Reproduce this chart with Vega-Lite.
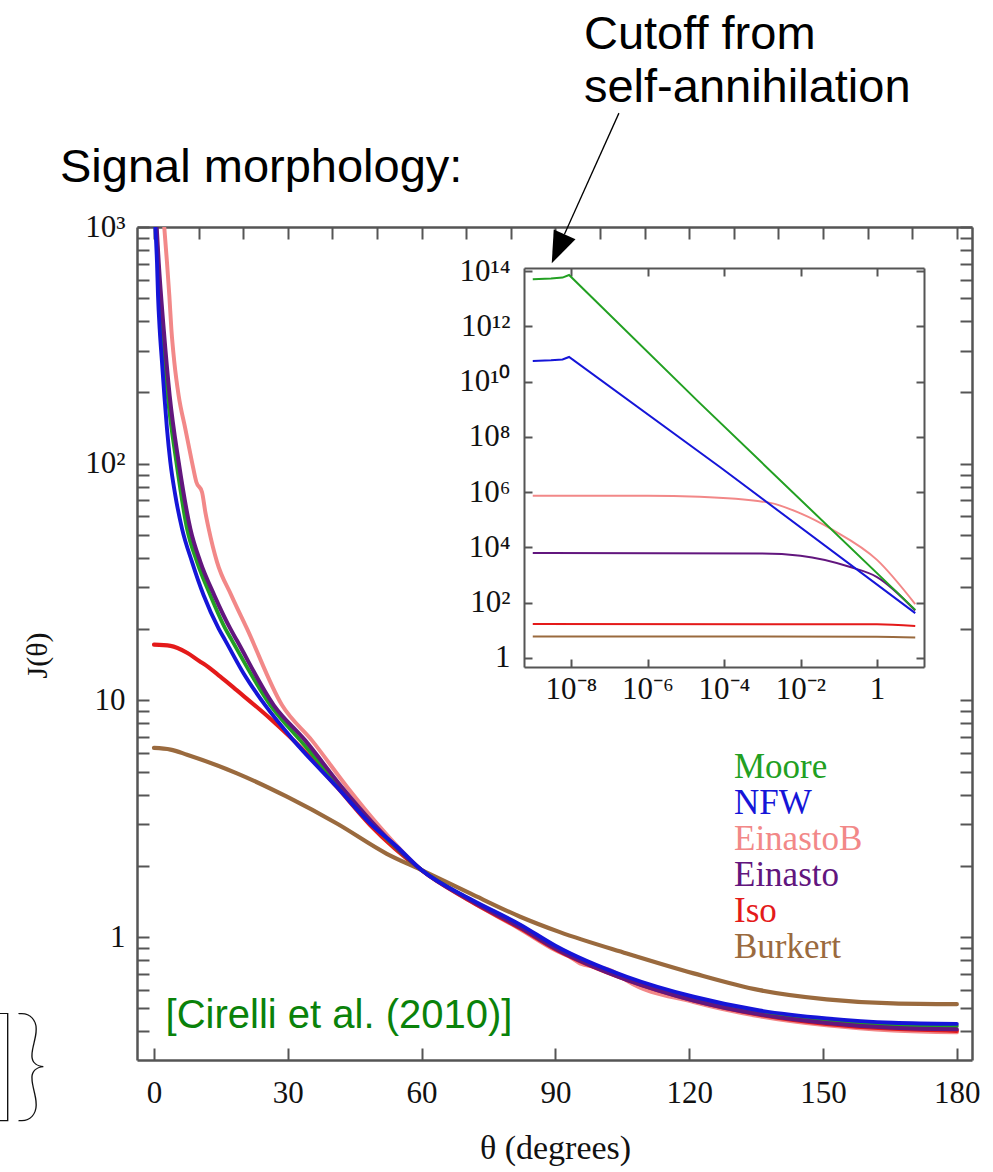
{
  "$schema": "https://vega.github.io/schema/vega-lite/v6.json",
  "width": 835,
  "height": 833,
  "autosize": {"type": "none"},
  "padding": {"left": 137, "top": 227, "right": 21, "bottom": 112},
  "background": "white",
  "config": {
    "view": {"stroke": null},
    "axis": {
      "grid": false,
      "domainColor": "#555555",
      "domainWidth": 2.5,
      "tickColor": "#555555",
      "tickWidth": 2,
      "labelFont": "Liberation Serif",
      "labelFontSize": 31,
      "labelColor": "#111111",
      "titleFont": "Liberation Serif",
      "titleFontWeight": "normal",
      "titleColor": "#111111",
      "labelFlush": false,
      "labelOverlap": false
    }
  },
  "datasets": {
    "main": [
      {"model": "EinastoB", "theta": 2.3, "J": 1000},
      {"model": "EinastoB", "theta": 2.91, "J": 710},
      {"model": "EinastoB", "theta": 3.44, "J": 513},
      {"model": "EinastoB", "theta": 3.89, "J": 371},
      {"model": "EinastoB", "theta": 4.56, "J": 268.5},
      {"model": "EinastoB", "theta": 5.53, "J": 194},
      {"model": "EinastoB", "theta": 7.02, "J": 140.5},
      {"model": "EinastoB", "theta": 8.52, "J": 101.6},
      {"model": "EinastoB", "theta": 9.49, "J": 83.7},
      {"model": "EinastoB", "theta": 10.76, "J": 76},
      {"model": "EinastoB", "theta": 11.51, "J": 62.5},
      {"model": "EinastoB", "theta": 12.26, "J": 53.2},
      {"model": "EinastoB", "theta": 14.12, "J": 38.5},
      {"model": "EinastoB", "theta": 17.34, "J": 27.8},
      {"model": "EinastoB", "theta": 20.85, "J": 20.1},
      {"model": "EinastoB", "theta": 28.69, "J": 9.56},
      {"model": "EinastoB", "theta": 35.4, "J": 6.78},
      {"model": "EinastoB", "theta": 43.3, "J": 4.31},
      {"model": "EinastoB", "theta": 50, "J": 3.02},
      {"model": "EinastoB", "theta": 60, "J": 1.92},
      {"model": "EinastoB", "theta": 70.9, "J": 1.42},
      {"model": "EinastoB", "theta": 82.1, "J": 1.08},
      {"model": "EinastoB", "theta": 90, "J": 0.88},
      {"model": "EinastoB", "theta": 93, "J": 0.83},
      {"model": "EinastoB", "theta": 95.5, "J": 0.775},
      {"model": "EinastoB", "theta": 98.5, "J": 0.75},
      {"model": "EinastoB", "theta": 101.5, "J": 0.735},
      {"model": "EinastoB", "theta": 104, "J": 0.7},
      {"model": "EinastoB", "theta": 106, "J": 0.655},
      {"model": "EinastoB", "theta": 121, "J": 0.532},
      {"model": "EinastoB", "theta": 135.8, "J": 0.463},
      {"model": "EinastoB", "theta": 150.8, "J": 0.424},
      {"model": "EinastoB", "theta": 165.7, "J": 0.403},
      {"model": "EinastoB", "theta": 180, "J": 0.396},

      {"model": "Iso", "theta": 0, "J": 17.2},
      {"model": "Iso", "theta": 3.7, "J": 17.0},
      {"model": "Iso", "theta": 7.4, "J": 15.9},
      {"model": "Iso", "theta": 10.3, "J": 14.6},
      {"model": "Iso", "theta": 11.13, "J": 14.28},
      {"model": "Iso", "theta": 14.87, "J": 12.6},
      {"model": "Iso", "theta": 18.6, "J": 11.02},
      {"model": "Iso", "theta": 26.08, "J": 8.37},
      {"model": "Iso", "theta": 33.55, "J": 6.15},
      {"model": "Iso", "theta": 41, "J": 4.31},
      {"model": "Iso", "theta": 48.5, "J": 2.97},
      {"model": "Iso", "theta": 60, "J": 1.918},
      {"model": "Iso", "theta": 70.9, "J": 1.42},
      {"model": "Iso", "theta": 82.1, "J": 1.09},
      {"model": "Iso", "theta": 90, "J": 0.89},
      {"model": "Iso", "theta": 106, "J": 0.66},
      {"model": "Iso", "theta": 121, "J": 0.54},
      {"model": "Iso", "theta": 135.8, "J": 0.47},
      {"model": "Iso", "theta": 150.8, "J": 0.43},
      {"model": "Iso", "theta": 165.7, "J": 0.41},
      {"model": "Iso", "theta": 180, "J": 0.402},

      {"model": "Burkert", "theta": 0, "J": 6.3},
      {"model": "Burkert", "theta": 3.7, "J": 6.2},
      {"model": "Burkert", "theta": 7.4, "J": 5.9},
      {"model": "Burkert", "theta": 18.6, "J": 4.92},
      {"model": "Burkert", "theta": 29.8, "J": 3.92},
      {"model": "Burkert", "theta": 41, "J": 3.02},
      {"model": "Burkert", "theta": 52.2, "J": 2.25},
      {"model": "Burkert", "theta": 60, "J": 1.92},
      {"model": "Burkert", "theta": 70.9, "J": 1.53},
      {"model": "Burkert", "theta": 82.1, "J": 1.22},
      {"model": "Burkert", "theta": 91, "J": 1.05},
      {"model": "Burkert", "theta": 106, "J": 0.853},
      {"model": "Burkert", "theta": 121, "J": 0.703},
      {"model": "Burkert", "theta": 135.8, "J": 0.597},
      {"model": "Burkert", "theta": 150.8, "J": 0.546},
      {"model": "Burkert", "theta": 165.7, "J": 0.525},
      {"model": "Burkert", "theta": 180, "J": 0.521},

      {"model": "Moore", "theta": 0.5, "J": 1000},
      {"model": "Moore", "theta": 0.9, "J": 710},
      {"model": "Moore", "theta": 1.79, "J": 371},
      {"model": "Moore", "theta": 3.06, "J": 194},
      {"model": "Moore", "theta": 5.01, "J": 101.6},
      {"model": "Moore", "theta": 7.4, "J": 53.2},
      {"model": "Moore", "theta": 9.64, "J": 38.5},
      {"model": "Moore", "theta": 12.63, "J": 27.8},
      {"model": "Moore", "theta": 15.99, "J": 20.1},
      {"model": "Moore", "theta": 17.5, "J": 17.9},
      {"model": "Moore", "theta": 26.08, "J": 9.56},
      {"model": "Moore", "theta": 32.8, "J": 6.78},
      {"model": "Moore", "theta": 41.76, "J": 4.31},
      {"model": "Moore", "theta": 48.9, "J": 3.02},
      {"model": "Moore", "theta": 60, "J": 1.92},
      {"model": "Moore", "theta": 70.9, "J": 1.44},
      {"model": "Moore", "theta": 82.1, "J": 1.12},
      {"model": "Moore", "theta": 90, "J": 0.91},
      {"model": "Moore", "theta": 106, "J": 0.672},
      {"model": "Moore", "theta": 121, "J": 0.552},
      {"model": "Moore", "theta": 135.8, "J": 0.482},
      {"model": "Moore", "theta": 150.8, "J": 0.445},
      {"model": "Moore", "theta": 165.7, "J": 0.426},
      {"model": "Moore", "theta": 180, "J": 0.421},

      {"model": "Einasto", "theta": 0.6, "J": 1000},
      {"model": "Einasto", "theta": 1.05, "J": 710},
      {"model": "Einasto", "theta": 2.17, "J": 371},
      {"model": "Einasto", "theta": 3.51, "J": 194},
      {"model": "Einasto", "theta": 5.53, "J": 101.6},
      {"model": "Einasto", "theta": 8.14, "J": 53.2},
      {"model": "Einasto", "theta": 10.39, "J": 38.5},
      {"model": "Einasto", "theta": 13.52, "J": 27.8},
      {"model": "Einasto", "theta": 17.11, "J": 20.1},
      {"model": "Einasto", "theta": 18.6, "J": 17.9},
      {"model": "Einasto", "theta": 26.83, "J": 9.56},
      {"model": "Einasto", "theta": 33.9, "J": 6.78},
      {"model": "Einasto", "theta": 42.1, "J": 4.31},
      {"model": "Einasto", "theta": 49.2, "J": 3.02},
      {"model": "Einasto", "theta": 60, "J": 1.92},
      {"model": "Einasto", "theta": 70.9, "J": 1.43},
      {"model": "Einasto", "theta": 82.1, "J": 1.1},
      {"model": "Einasto", "theta": 90, "J": 0.895},
      {"model": "Einasto", "theta": 106, "J": 0.66},
      {"model": "Einasto", "theta": 121, "J": 0.54},
      {"model": "Einasto", "theta": 135.8, "J": 0.472},
      {"model": "Einasto", "theta": 150.8, "J": 0.434},
      {"model": "Einasto", "theta": 165.7, "J": 0.414},
      {"model": "Einasto", "theta": 180, "J": 0.408},

      {"model": "NFW", "theta": 0.3, "J": 1000},
      {"model": "NFW", "theta": 0.67, "J": 710},
      {"model": "NFW", "theta": 0.9, "J": 513},
      {"model": "NFW", "theta": 1.27, "J": 371},
      {"model": "NFW", "theta": 1.79, "J": 268.5},
      {"model": "NFW", "theta": 2.32, "J": 194},
      {"model": "NFW", "theta": 2.91, "J": 140.5},
      {"model": "NFW", "theta": 3.66, "J": 101.6},
      {"model": "NFW", "theta": 4.78, "J": 73.5},
      {"model": "NFW", "theta": 6.28, "J": 53.2},
      {"model": "NFW", "theta": 8.52, "J": 38.5},
      {"model": "NFW", "theta": 11.13, "J": 27.8},
      {"model": "NFW", "theta": 14.5, "J": 20.1},
      {"model": "NFW", "theta": 16, "J": 17.9},
      {"model": "NFW", "theta": 20.1, "J": 13.0},
      {"model": "NFW", "theta": 25, "J": 9.5},
      {"model": "NFW", "theta": 31.3, "J": 6.78},
      {"model": "NFW", "theta": 41, "J": 4.31},
      {"model": "NFW", "theta": 48.5, "J": 3.02},
      {"model": "NFW", "theta": 54.5, "J": 2.41},
      {"model": "NFW", "theta": 60, "J": 1.92},
      {"model": "NFW", "theta": 70.9, "J": 1.45},
      {"model": "NFW", "theta": 82.1, "J": 1.13},
      {"model": "NFW", "theta": 90, "J": 0.92},
      {"model": "NFW", "theta": 106, "J": 0.68},
      {"model": "NFW", "theta": 121, "J": 0.56},
      {"model": "NFW", "theta": 135.8, "J": 0.49},
      {"model": "NFW", "theta": 150.8, "J": 0.454},
      {"model": "NFW", "theta": 165.7, "J": 0.435},
      {"model": "NFW", "theta": 180, "J": 0.43}
    ],
    "inset": [
      {"model": "EinastoB", "x": 1e-9, "J": 7.4e5},
      {"model": "EinastoB", "x": 1e-6, "J": 7.4e5},
      {"model": "EinastoB", "x": 2.3e-5, "J": 6.8e5},
      {"model": "EinastoB", "x": 1.6e-3, "J": 4.1e5},
      {"model": "EinastoB", "x": 1e-2, "J": 1.7e5},
      {"model": "EinastoB", "x": 7e-2, "J": 4.3e4},
      {"model": "EinastoB", "x": 1, "J": 3550},
      {"model": "EinastoB", "x": 10, "J": 89},
      {"model": "Iso", "x": 1e-9, "J": 17},
      {"model": "Iso", "x": 1, "J": 16.6},
      {"model": "Iso", "x": 10, "J": 14.3},
      {"model": "Burkert", "x": 1e-9, "J": 6.0},
      {"model": "Burkert", "x": 1, "J": 5.9},
      {"model": "Burkert", "x": 10, "J": 5.5},
      {"model": "Einasto", "x": 1e-9, "J": 6300},
      {"model": "Einasto", "x": 1e-3, "J": 6000},
      {"model": "Einasto", "x": 1e-2, "J": 5000},
      {"model": "Einasto", "x": 0.2, "J": 1950},
      {"model": "Einasto", "x": 1, "J": 850},
      {"model": "Einasto", "x": 10, "J": 52},
      {"model": "Moore", "x": 1e-9, "J": 5.1e13},
      {"model": "Moore", "x": 3e-9, "J": 5.4e13},
      {"model": "Moore", "x": 6e-9, "J": 5.8e13},
      {"model": "Moore", "x": 8.9e-9, "J": 7.2e13},
      {"model": "Moore", "x": 2.3e-5, "J": 1.7e9},
      {"model": "Moore", "x": 10, "J": 55},
      {"model": "NFW", "x": 1e-9, "J": 5.6e10},
      {"model": "NFW", "x": 3e-9, "J": 5.9e10},
      {"model": "NFW", "x": 6e-9, "J": 6.3e10},
      {"model": "NFW", "x": 8.9e-9, "J": 7.8e10},
      {"model": "NFW", "x": 8.3e-5, "J": 7.6e6},
      {"model": "NFW", "x": 10, "J": 42}
    ]
  },
  "layer": [
    {
      "resolve": {"axis": {"x": "independent", "y": "independent"}},
      "layer": [
        {
          "data": {"name": "main"},
          "mark": {"type": "line", "interpolate": "monotone", "strokeCap": "round", "strokeJoin": "round", "clip": true},
          "encoding": {
            "x": {
              "field": "theta", "type": "quantitative",
              "scale": {"domain": [-3.81, 183.4], "nice": false, "zero": false},
              "axis": {
                "orient": "bottom",
                "values": [0, 30, 60, 90, 120, 150, 180],
                "tickSize": -12,
                "labelPadding": 30,
                "title": "θ (degrees)",
                "titleFontSize": 34,
                "titleX": 418,
                "titleY": 88,
                "titleAngle": 0,
                "titleAlign": "center",
                "titleBaseline": "middle"
              }
            },
            "y": {
              "field": "J", "type": "quantitative",
              "scale": {"type": "log", "domain": [0.3027, 1000], "nice": false},
              "axis": {
                "orient": "left",
                "values": [0.4, 0.5, 0.6, 0.7, 0.8, 0.9, 1, 2, 3, 4, 5, 6, 7, 8, 9, 10, 20, 30, 40, 50, 60, 70, 80, 90, 100, 200, 300, 400, 500, 600, 700, 800, 900, 1000],
                "labelExpr": "datum.value == 1 ? '1' : datum.value == 10 ? '10' : datum.value == 100 ? '10²' : datum.value == 1000 ? '10³' : ''",
                "tickSize": -12,
                "labelPadding": 24,
                "title": "J(θ)",
                "titleFontSize": 30,
                "titleX": -100,
                "titleY": 428,
                "titleAngle": -90,
                "titleAlign": "center",
                "titleBaseline": "middle"
              }
            },
            "color": {
              "field": "model", "type": "nominal",
              "scale": {
                "domain": ["Moore", "NFW", "EinastoB", "Einasto", "Iso", "Burkert"],
                "range": ["#22a022", "#1515d8", "#f28888", "#62167e", "#e41a1a", "#9a6a3e"]
              },
              "legend": {
                "orient": "none",
                "legendX": 562,
                "legendY": 522,
                "title": null,
                "symbolSize": 0,
                "symbolStrokeWidth": 0,
                "symbolOpacity": 0,
                "labelFont": "Liberation Serif",
                "labelFontSize": 35,
                "labelOffset": 0,
                "labelLimit": 400,
                "rowPadding": -2.4,
                "padding": 0,
                "encode": {"labels": {"update": {"fill": {"scale": "color", "field": "value"}}}}
              }
            },
            "strokeWidth": {
              "field": "model", "type": "ordinal",
              "scale": {
                "domain": ["Moore", "NFW", "EinastoB", "Einasto", "Iso", "Burkert"],
                "range": [3.8, 4.2, 6.5, 4.2, 4.2, 3.8]
              },
              "legend": null
            }
          }
        },
        {
          "data": {"name": "main"},
          "mark": {"type": "point", "opacity": 0},
          "encoding": {
            "x": {
              "field": "theta", "type": "quantitative",
              "scale": {"domain": [-3.81, 183.4], "nice": false, "zero": false},
              "axis": {
                "orient": "top",
                "values": [0, 10, 20, 30, 40, 50, 60, 70, 80, 90, 100, 110, 120, 130, 140, 150, 160, 170, 180],
                "tickSize": -12,
                "labels": false,
                "title": null
              }
            },
            "y": {
              "field": "J", "type": "quantitative",
              "scale": {"type": "log", "domain": [0.3027, 1000], "nice": false},
              "axis": {
                "orient": "right",
                "values": [0.4, 0.5, 0.6, 0.7, 0.8, 0.9, 1, 2, 3, 4, 5, 6, 7, 8, 9, 10, 20, 30, 40, 50, 60, 70, 80, 90, 100, 200, 300, 400, 500, 600, 700, 800, 900, 1000],
                "tickSize": -12,
                "labels": false,
                "title": null
              }
            }
          }
        },
        {
          "data": {"values": [
            {"theta": -21.07, "J": 1549, "text": "Signal morphology:"},
            {"theta": 96.4, "J": 5636, "text": "Cutoff from"},
            {"theta": 96.4, "J": 3366, "text": "self-annihilation"}
          ]},
          "mark": {"type": "text", "font": "Liberation Sans", "fontSize": 47, "align": "left", "baseline": "alphabetic", "color": "#000000"},
          "encoding": {
            "x": {"field": "theta", "type": "quantitative", "scale": {"domain": [-3.81, 183.4], "nice": false, "zero": false}, "axis": null},
            "y": {"field": "J", "type": "quantitative", "scale": {"type": "log", "domain": [0.3027, 1000], "nice": false}, "axis": null},
            "text": {"field": "text"}
          }
        },
        {
          "data": {"values": [
            {"theta": 2.6, "J": 0.412, "text": "[Cirelli et al. (2010)]"}
          ]},
          "mark": {"type": "text", "font": "Liberation Sans", "fontSize": 40, "align": "left", "baseline": "alphabetic", "color": "#0a820a"},
          "encoding": {
            "x": {"field": "theta", "type": "quantitative", "scale": {"domain": [-3.81, 183.4], "nice": false, "zero": false}, "axis": null},
            "y": {"field": "J", "type": "quantitative", "scale": {"type": "log", "domain": [0.3027, 1000], "nice": false}, "axis": null},
            "text": {"field": "text"}
          }
        },
        {
          "data": {"values": [
            {"theta": -27.57, "J": 0.1936, "text": "}"}
          ]},
          "mark": {"type": "text", "font": "DejaVu Sans ExtraLight, Lato", "fontSize": 125, "fontWeight": 200, "align": "center", "baseline": "alphabetic", "color": "#111111"},
          "encoding": {
            "x": {"field": "theta", "type": "quantitative", "scale": {"domain": [-3.81, 183.4], "nice": false, "zero": false}, "axis": null},
            "y": {"field": "J", "type": "quantitative", "scale": {"type": "log", "domain": [0.3027, 1000], "nice": false}, "axis": null},
            "text": {"field": "text"}
          }
        },
        {
          "data": {"values": [
            {"theta": -33.6, "J": 0.1936, "text": "]"}
          ]},
          "mark": {"type": "text", "font": "DejaVu Sans ExtraLight, Lato", "fontSize": 125, "fontWeight": 200, "align": "center", "baseline": "alphabetic", "color": "#111111"},
          "encoding": {
            "x": {"field": "theta", "type": "quantitative", "scale": {"domain": [-3.81, 183.4], "nice": false, "zero": false}, "axis": null},
            "y": {"field": "J", "type": "quantitative", "scale": {"type": "log", "domain": [0.3027, 1000], "nice": false}, "axis": null},
            "text": {"field": "text"}
          }
        },
        {
          "data": {"values": [
            {"theta": 104.24, "J": 3027},
            {"theta": 92.0, "J": 929.8}
          ]},
          "mark": {"type": "line", "color": "#000000", "strokeWidth": 1.3},
          "encoding": {
            "x": {"field": "theta", "type": "quantitative", "scale": {"domain": [-3.81, 183.4], "nice": false, "zero": false}, "axis": null},
            "y": {"field": "J", "type": "quantitative", "scale": {"type": "log", "domain": [0.3027, 1000], "nice": false}, "axis": null}
          }
        },
        {
          "data": {"values": [
            {"theta": 90.62, "J": 808.5}
          ]},
          "mark": {"type": "point", "shape": "M -0.753 -1 L 0.753 -1 L 0 1 Z", "size": 1000, "angle": 24, "filled": true, "color": "#000000", "opacity": 1, "strokeWidth": 0},
          "encoding": {
            "x": {"field": "theta", "type": "quantitative", "scale": {"domain": [-3.81, 183.4], "nice": false, "zero": false}, "axis": null},
            "y": {"field": "J", "type": "quantitative", "scale": {"type": "log", "domain": [0.3027, 1000], "nice": false}, "axis": null}
          }
        }
      ]
    },
    {
      "resolve": {"axis": {"x": "independent", "y": "independent"}},
      "layer": [
        {
          "data": {"name": "inset"},
          "transform": [{"filter": "datum.model != 'Moore' && datum.model != 'NFW'"}],
          "mark": {"type": "line", "strokeWidth": 2, "interpolate": "monotone", "clip": false},
          "encoding": {
            "x": {
              "field": "x", "type": "quantitative",
              "scale": {"type": "log", "domain": [5.9e-10, 16.94], "range": [387, 787], "nice": false},
              "axis": {
                "orient": "bottom",
                "offset": -393,
                "values": [1e-8, 1e-6, 1e-4, 1e-2, 1],
                "labelExpr": "datum.value > 0.5 ? '1' : datum.value > 1e-3 ? '10⁻²' : datum.value > 1e-5 ? '10⁻⁴' : datum.value > 1e-7 ? '10⁻⁶' : '10⁻⁸'",
                "tickSize": -8,
                "labelPadding": 15,
                "domainWidth": 2,
                "title": null
              }
            },
            "y": {
              "field": "J", "type": "quantitative",
              "scale": {"type": "log", "domain": [0.472, 1.29e14], "range": [440, 41], "nice": false},
              "axis": {
                "orient": "left",
                "offset": -387,
                "values": [1, 1e2, 1e4, 1e6, 1e8, 1e10, 1e12, 1e14],
                "labelExpr": "datum.value < 10 ? '1' : datum.value < 1e3 ? '10²' : datum.value < 1e5 ? '10⁴' : datum.value < 1e7 ? '10⁶' : datum.value < 1e9 ? '10⁸' : datum.value < 1e11 ? '10¹⁰' : datum.value < 1e13 ? '10¹²' : '10¹⁴'",
                "tickSize": -8,
                "labelPadding": 22,
                "domainWidth": 2,
                "title": null
              }
            },
            "color": {
              "field": "model", "type": "nominal",
              "scale": {
                "domain": ["Moore", "NFW", "EinastoB", "Einasto", "Iso", "Burkert"],
                "range": ["#22a022", "#1515d8", "#f28888", "#62167e", "#e41a1a", "#9a6a3e"]
              },
              "legend": null
            }
          }
        },
        {
          "data": {"name": "inset"},
          "transform": [{"filter": "datum.model == 'Moore' || datum.model == 'NFW'"}],
          "mark": {"type": "line", "strokeWidth": 2, "clip": false},
          "encoding": {
            "x": {
              "field": "x", "type": "quantitative",
              "scale": {"type": "log", "domain": [5.9e-10, 16.94], "range": [387, 787], "nice": false},
              "axis": null
            },
            "y": {
              "field": "J", "type": "quantitative",
              "scale": {"type": "log", "domain": [0.472, 1.29e14], "range": [440, 41], "nice": false},
              "axis": null
            },
            "color": {
              "field": "model", "type": "nominal",
              "scale": {
                "domain": ["Moore", "NFW", "EinastoB", "Einasto", "Iso", "Burkert"],
                "range": ["#22a022", "#1515d8", "#f28888", "#62167e", "#e41a1a", "#9a6a3e"]
              },
              "legend": null
            }
          }
        },
        {
          "data": {"name": "inset"},
          "mark": {"type": "point", "opacity": 0},
          "encoding": {
            "x": {
              "field": "x", "type": "quantitative",
              "scale": {"type": "log", "domain": [5.9e-10, 16.94], "range": [387, 787], "nice": false},
              "axis": {
                "orient": "top",
                "offset": -41,
                "values": [1e-8, 1e-6, 1e-4, 1e-2, 1],
                "tickSize": -8,
                "labels": false,
                "domainWidth": 2,
                "title": null
              }
            },
            "y": {
              "field": "J", "type": "quantitative",
              "scale": {"type": "log", "domain": [0.472, 1.29e14], "range": [440, 41], "nice": false},
              "axis": {
                "orient": "right",
                "offset": -48,
                "values": [1, 1e2, 1e4, 1e6, 1e8, 1e10, 1e12, 1e14],
                "tickSize": -8,
                "labels": false,
                "domainWidth": 2,
                "title": null
              }
            }
          }
        }
      ]
    }
  ],
  "resolve": {"scale": {"x": "independent", "y": "independent"}}
}
